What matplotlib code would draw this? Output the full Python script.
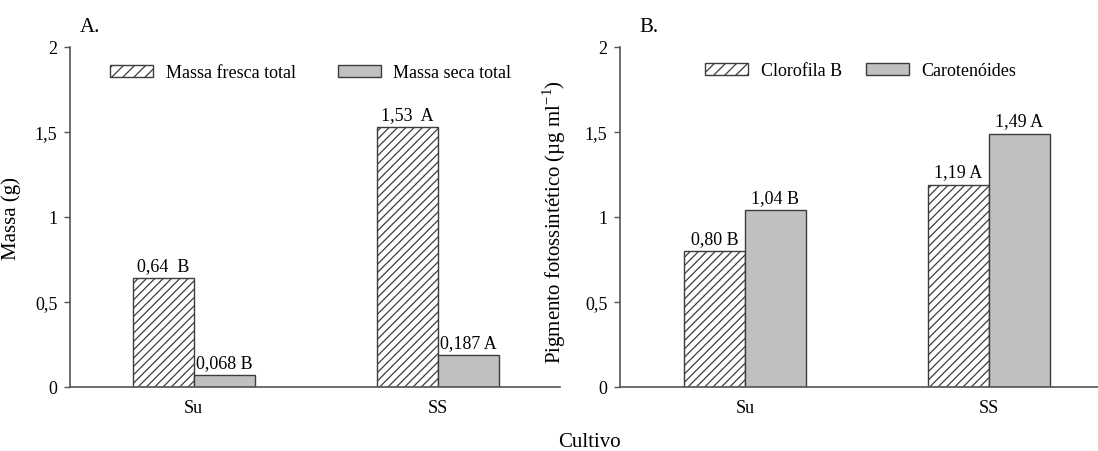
import numpy as np
import matplotlib
matplotlib.use("Agg")
import matplotlib.pyplot as plt
from matplotlib.patches import Patch

# Data
cultivos = ["Su", "SS"]
massa_fresca = [0.64, 1.53]
massa_seca = [0.068, 0.187]
massa_fresca_letras = ["B", "A"]
massa_seca_letras = ["B", "A"]
clorofila_b = [0.80, 1.19]
carotenoides = [1.04, 1.49]
clorofila_letras = ["B", "A"]
carotenoides_letras = ["B", "A"]
yticks = [0, 0.5, 1, 1.5, 2]
ytick_labels = ["0", "0,5", "1", "1,5", "2"]

plt.rcParams["font.family"] = ["Liberation Serif", "DejaVu Serif"]
plt.rcParams["mathtext.fontset"] = "custom"
plt.rcParams["mathtext.rm"] = "Liberation Serif"
plt.rcParams["hatch.linewidth"] = 0.9
plt.rcParams["hatch.color"] = "#3c3c3c"

EDGE = "#3c3c3c"
GRAY = "#c0c0c0"
SPINE = "#555555"
W = 0.25

fig = plt.figure(figsize=(10.98, 4.52), dpi=100)
axA = fig.add_axes([70 / 1098, 1 - 388 / 452, 490 / 1098, 340 / 452])
axB = fig.add_axes([620 / 1098, 1 - 388 / 452, 478 / 1098, 340 / 452])


def fmt(v, dec):
    return f"{v:.{dec}f}".replace(".", ",")


def draw_panel(ax, s1, s2, l1, l2, dec1, dec2, sep1, xlim):
    x = np.arange(len(cultivos))
    ax.bar(x - W / 2, s1, W, facecolor="white", edgecolor=EDGE,
           hatch="////", linewidth=1.0)
    ax.bar(x + W / 2, s2, W, facecolor=GRAY, edgecolor=EDGE, linewidth=1.0)
    for xi, v, lt in zip(x - W / 2, s1, l1):
        ax.annotate(fmt(v, dec1) + sep1 + lt, (xi, v), xytext=(0, 3),
                    textcoords="offset points", ha="center", va="bottom",
                    fontsize=13)
    for xi, v, lt in zip(x + W / 2, s2, l2):
        ax.annotate(fmt(v, dec2) + " " + lt, (xi, v), xytext=(0, 3),
                    textcoords="offset points", ha="center", va="bottom",
                    fontsize=13)
    ax.set_xlim(*xlim)
    ax.set_ylim(0, 2)
    ax.set_yticks(yticks)
    ax.set_yticklabels(ytick_labels)
    ax.set_xticks(x)
    ax.set_xticklabels(cultivos)
    ax.tick_params(axis="x", length=0, pad=9, labelsize=13)
    ax.tick_params(axis="y", length=4, width=1, color=SPINE, pad=5,
                   labelsize=13)
    for s in ("top", "right"):
        ax.spines[s].set_visible(False)
    for s in ("left", "bottom"):
        ax.spines[s].set_color(SPINE)
        ax.spines[s].set_linewidth(1.2)
    handles = [Patch(facecolor="white", edgecolor=EDGE, hatch="///",
                     linewidth=1.0),
               Patch(facecolor=GRAY, edgecolor=EDGE, linewidth=1.0)]
    return handles


hA = draw_panel(axA, massa_fresca, massa_seca, massa_fresca_letras,
                massa_seca_letras, 2, 3, "  ", (-0.507, 1.50))
axA.legend(hA, ["Massa fresca total", "Massa seca total"], ncol=2,
           frameon=False, fontsize=13, loc="center left",
           bbox_to_anchor=((110 - 70) / 490, (388 - 74) / 340),
           borderpad=0, borderaxespad=0, handlelength=2.4,
           handleheight=0.6, handletextpad=0.7, columnspacing=2.3)
axA.set_ylabel("Massa (g)", fontsize=15)
axA.yaxis.set_label_coords((21 - 70) / 490, 0.5)

hB = draw_panel(axB, clorofila_b, carotenoides, clorofila_letras,
                carotenoides_letras, 2, 2, " ", (-0.512, 1.447))
axB.legend(hB, ["Clorofila B", "Carotenóides"], ncol=2,
           frameon=False, fontsize=13, loc="center left",
           bbox_to_anchor=((705 - 620) / 478, (388 - 72) / 340),
           borderpad=0, borderaxespad=0, handlelength=2.4,
           handleheight=0.6, handletextpad=0.7, columnspacing=1.3)
axB.set_ylabel("Pigmento fotossintético (µg ml$^{\\mathregular{-1}}$)",
               fontsize=15)
axB.yaxis.set_label_coords((568 - 620) / 478, (388 - 222) / 340)

fig.text(90 / 1098, 1 - 28 / 452, "A.", fontsize=15, ha="center",
         va="center")
fig.text(649 / 1098, 1 - 28 / 452, "B.", fontsize=15, ha="center",
         va="center")
fig.text(589 / 1098, 1 - 443 / 452, "Cultivo", fontsize=15, ha="center",
         va="center")

fig.savefig("out.png", dpi=100)
